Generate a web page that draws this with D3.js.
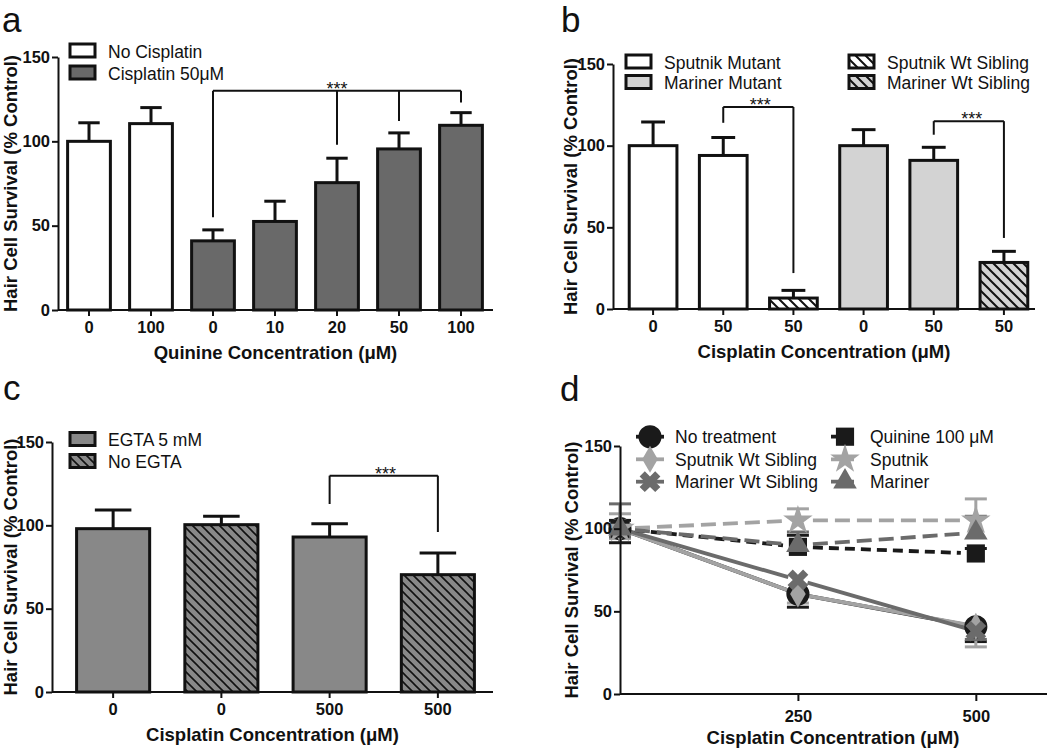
<!DOCTYPE html>
<html>
<head>
<meta charset="utf-8">
<script src="https://cdn.jsdelivr.net/npm/d3@7"></script>
<style>
body { margin: 0; background: #fff; }
svg text { font-family: Arial, "Liberation Sans", sans-serif; fill: #111; }
</style>
</head>
<body>
<div id="chart-area"></div>
<script>
// panel a
const aLabels = ["0", "100", "0", "10", "20", "50", "100"]
const aValues = [100, 110.5, 41, 52.5, 75.5, 95.5, 109.5]
const aErrors = [11, 9.5, 6.5, 12, 14.5, 9.5, 7.5]
const aGroups = ["No Cisplatin", "No Cisplatin", "Cisplatin 50μM", "Cisplatin 50μM", "Cisplatin 50μM", "Cisplatin 50μM", "Cisplatin 50μM"]

// panel b
const bLabels = ["0", "50", "50", "0", "50", "50"]
const bValues = [100, 94, 6.7, 100, 91, 28.5]
const bErrors = [14.5, 11, 4.7, 9.8, 8, 6.8]
const bGroups = ["Sputnik Mutant", "Sputnik Mutant", "Sputnik Wt Sibling", "Mariner Mutant", "Mariner Mutant", "Mariner Wt Sibling"]

// panel c
const cLabels = ["0", "0", "500", "500"]
const cValues = [98, 100.4, 93, 70.4]
const cErrors = [11.2, 5, 8, 13]
const cGroups = ["EGTA 5 mM", "No EGTA", "EGTA 5 mM", "No EGTA"]

// panel d
const dDoses = [0, 250, 500]
const dSeries = ["No treatment", "Sputnik Wt Sibling", "Mariner Wt Sibling", "Quinine 100 μM", "Sputnik", "Mariner"]
const dValues = [[100, 60.5, 40.7], [100, 60.5, 41], [100, 69, 38], [100, 89, 85], [100, 105, 105], [100, 90, 97.5]]
const dErrors = [[8.5, 8, 9], [6, 5.5, 12.5], [5, 7, 5], [5, 7, 3], [9, 7, 13], [15, 8, 10]]

const yTicks = [0, 50, 100, 150]

const svg = d3.select("#chart-area").append("svg").attr("width", 1050).attr("height", 749)

// hatch patterns
const defs = svg.append("defs")
function hatch(id, bg, line, step, w) {
  const p = defs.append("pattern").attr("id", id).attr("patternUnits", "userSpaceOnUse")
    .attr("width", step).attr("height", step)
  p.append("rect").attr("width", step).attr("height", step).attr("fill", bg)
  p.append("path").attr("d", `M0,0L${step},${step}M${-step / 2},${step / 2}L${step / 2},${step * 1.5}M${step / 2},${-step / 2}L${step * 1.5},${step / 2}`)
    .attr("stroke", line).attr("stroke-width", w)
}
hatch("hWhite", "#fff", "#111", 10, 2)
hatch("hLight", "#d3d3d3", "#111", 10, 2)
hatch("hGray", "#888", "#111", 9, 1.6)

function letter(t, x, y) {
  svg.append("text").attr("x", x).attr("y", y).attr("font-size", 35).text(t)
}

function yAxis(g, y, axisX, midY, titleX) {
  g.append("g").attr("transform", `translate(${axisX},0)`)
    .call(d3.axisLeft(y).tickValues(yTicks).tickSize(6).tickSizeOuter(0).tickPadding(2))
    .call(a => {
      a.select(".domain").attr("stroke", "#111").attr("stroke-width", 2)
      a.selectAll(".tick line").attr("stroke", "#111").attr("stroke-width", 2)
      a.selectAll(".tick text").attr("font-size", 16.5).attr("font-weight", "bold").attr("fill", "#111")
        .attr("font-family", "Arial, 'Liberation Sans', sans-serif")
    })
  g.append("text").attr("transform", `translate(${titleX},${midY}) rotate(-90)`)
    .attr("text-anchor", "middle").attr("font-size", 18.5).attr("font-weight", "bold")
    .text("Hair Cell Survival (% Control)")
}

function barPanel(p) {
  const g = svg.append("g")
  const y = d3.scaleLinear().domain([0, 150]).range([p.y0, p.y150])
  const x = d3.scaleBand().domain(p.labels.map((d, i) => i)).range([p.bandStart, p.bandEnd])
    .paddingInner(p.pad).paddingOuter(p.pad / 2)

  // bars
  g.selectAll("rect.bar").data(p.values).enter().append("rect")
    .attr("x", (d, i) => x(i))
    .attr("y", d => y(d))
    .attr("width", x.bandwidth())
    .attr("height", d => y(0) - y(d))
    .attr("fill", (d, i) => p.fills[p.groups[i]])
    .attr("stroke", "#111").attr("stroke-width", 3)

  // error bars
  const eb = g.selectAll("g.err").data(p.values).enter().append("g")
  eb.append("line")
    .attr("x1", (d, i) => x(i) + x.bandwidth() / 2).attr("x2", (d, i) => x(i) + x.bandwidth() / 2)
    .attr("y1", d => y(d)).attr("y2", (d, i) => y(d + p.errors[i]))
    .attr("stroke", "#111").attr("stroke-width", 3)
  eb.append("line")
    .attr("x1", (d, i) => x(i) + x.bandwidth() / 4).attr("x2", (d, i) => x(i) + x.bandwidth() * 3 / 4)
    .attr("y1", (d, i) => y(d + p.errors[i])).attr("y2", (d, i) => y(d + p.errors[i]))
    .attr("stroke", "#111").attr("stroke-width", 3)

  // brackets
  p.brackets.forEach(b => {
    const xs = b.ends.map(e => x(e[0]) + x.bandwidth() / 2)
    g.append("line").attr("x1", d3.min(xs)).attr("x2", d3.max(xs))
      .attr("y1", y(b.level)).attr("y2", y(b.level)).attr("stroke", "#111").attr("stroke-width", 2)
    b.ends.forEach((e, k) => {
      g.append("line").attr("x1", xs[k]).attr("x2", xs[k])
        .attr("y1", y(b.level)).attr("y2", y(e[1])).attr("stroke", "#111").attr("stroke-width", 2)
    })
    g.append("text").attr("x", x(b.star) + x.bandwidth() / 2 + (b.shift || 0)).attr("y", y(b.level) + 4)
      .attr("text-anchor", "middle").attr("font-size", 18).text("***")
  })

  // x axis
  g.append("line").attr("x1", p.axisX).attr("x2", p.axisEnd).attr("y1", y(0)).attr("y2", y(0))
    .attr("stroke", "#111").attr("stroke-width", 2)
  g.append("g").attr("transform", `translate(0,${y(0)})`)
    .call(d3.axisBottom(x).tickSize(6).tickPadding(5).tickFormat(i => p.labels[i]))
    .call(a => {
      a.select(".domain").remove()
      a.selectAll(".tick line").attr("stroke", "#111").attr("stroke-width", 2)
      a.selectAll(".tick text").attr("font-size", 16.5).attr("font-weight", "bold").attr("fill", "#111")
        .attr("font-family", "Arial, 'Liberation Sans', sans-serif")
    })
  g.append("text").attr("x", (p.axisX + p.axisEnd) / 2).attr("y", y(0) + 49)
    .attr("text-anchor", "middle").attr("font-size", 18.5).attr("font-weight", "bold").text(p.xTitle)

  yAxis(g, y, p.axisX, (p.y0 + p.y150) / 2, p.titleX)

  // legend
  p.legend.forEach(l => {
    g.append("rect").attr("x", l.x).attr("y", l.y - 6.5).attr("width", 25).attr("height", 13)
      .attr("fill", p.fills[l.name]).attr("stroke", "#111").attr("stroke-width", 3)
    g.append("text").attr("x", l.x + 38).attr("y", l.y + 7).attr("font-size", 17.5).text(l.name)
  })
}

barPanel({
  labels: aLabels, values: aValues, errors: aErrors, groups: aGroups,
  fills: { "No Cisplatin": "#fff", "Cisplatin 50μM": "#696969" },
  y0: 310, y150: 57, bandStart: 58, bandEnd: 492, pad: 0.31, axisX: 58, axisEnd: 493, titleX: 17,
  xTitle: "Quinine Concentration (μM)",
  brackets: [{ level: 130, star: 4, ends: [[2, 55], [4, 98], [5, 112], [6, 123]] }],
  legend: [{ name: "No Cisplatin", x: 70, y: 50.5 }, { name: "Cisplatin 50μM", x: 70, y: 72.5 }]
})

barPanel({
  labels: bLabels, values: bValues, errors: bErrors, groups: bGroups,
  fills: { "Sputnik Mutant": "#fff", "Mariner Mutant": "#d3d3d3", "Sputnik Wt Sibling": "url(#hWhite)", "Mariner Wt Sibling": "url(#hLight)" },
  y0: 309, y150: 64, bandStart: 618, bandEnd: 1039, pad: 0.32, axisX: 613, axisEnd: 1035, titleX: 577,
  xTitle: "Cisplatin Concentration (μM)",
  brackets: [{ level: 123.7, star: 1, shift: 37, ends: [[1, 114], [2, 22]] },
             { level: 115, star: 4, shift: 38, ends: [[4, 106.7], [5, 43.5]] }],
  legend: [{ name: "Sputnik Mutant", x: 626, y: 61.5 }, { name: "Mariner Mutant", x: 626, y: 82 },
           { name: "Sputnik Wt Sibling", x: 849, y: 61.5 }, { name: "Mariner Wt Sibling", x: 849, y: 82 }]
})

barPanel({
  labels: cLabels, values: cValues, errors: cErrors, groups: cGroups,
  fills: { "EGTA 5 mM": "#888", "No EGTA": "url(#hGray)" },
  y0: 692, y150: 442, bandStart: 59, bandEnd: 492, pad: 0.325, axisX: 52, axisEnd: 493, titleX: 17,
  xTitle: "Cisplatin Concentration (μM)",
  brackets: [{ level: 129.8, star: 2, shift: 56, ends: [[2, 112.8], [3, 96]] }],
  legend: [{ name: "EGTA 5 mM", x: 70, y: 439 }, { name: "No EGTA", x: 70, y: 461 }]
})

// panel d: dose response lines
const dStyles = [
  { color: "#1a1a1a", dash: null, symbol: d3.symbolCircle, size: 420, rot: 0 },
  { color: "#a3a3a3", dash: null, symbol: d3.symbolDiamond, size: 210, rot: 0 },
  { color: "#6b6b6b", dash: null, symbol: d3.symbolCross, size: 270, rot: 45 },
  { color: "#1a1a1a", dash: "10,6", symbol: d3.symbolSquare, size: 330, rot: 0 },
  { color: "#a3a3a3", dash: "15,7", symbol: d3.symbolStar, size: 270, rot: 0 },
  { color: "#6b6b6b", dash: "15,7", symbol: d3.symbolTriangle, size: 240, rot: 0 }
]

const gd = svg.append("g")
const yd = d3.scaleLinear().domain([0, 150]).range([694, 446])
const xd = d3.scaleLinear().domain([0, 600]).range([620, 1047])

// lines with small gaps at the markers
dSeries.forEach((s, si) => {
  const st = dStyles[si]
  for (let k = 0; k < dDoses.length - 1; k++) {
    const x1 = xd(dDoses[k]), y1 = yd(dValues[si][k])
    const x2 = xd(dDoses[k + 1]), y2 = yd(dValues[si][k + 1])
    const len = Math.hypot(x2 - x1, y2 - y1)
    const ux = (x2 - x1) / len, uy = (y2 - y1) / len
    const gap = st.dash ? 15 : 10
    gd.append("line")
      .attr("x1", x1 + ux * gap).attr("y1", y1 + uy * gap)
      .attr("x2", x2 - ux * gap).attr("y2", y2 - uy * gap)
      .attr("stroke", st.color).attr("stroke-width", 3.8)
      .attr("stroke-dasharray", st.dash)
  }
})

// error bars then markers
dSeries.forEach((s, si) => {
  const st = dStyles[si]
  const dir = st.dash ? 1 : -1
  dDoses.forEach((dose, k) => {
    const v = dValues[si][k], e = dErrors[si][k]
    gd.append("line").attr("x1", xd(dose)).attr("x2", xd(dose))
      .attr("y1", yd(v)).attr("y2", yd(v + dir * e))
      .attr("stroke", st.color).attr("stroke-width", 3)
    gd.append("line").attr("x1", xd(dose) - 11).attr("x2", xd(dose) + 11)
      .attr("y1", yd(v + dir * e)).attr("y2", yd(v + dir * e))
      .attr("stroke", st.color).attr("stroke-width", 3)
  })
})
dSeries.forEach((s, si) => {
  const st = dStyles[si]
  gd.selectAll(null).data(dDoses).enter().append("path")
    .attr("d", d3.symbol().type(st.symbol).size(st.size))
    .attr("transform", (d, k) => `translate(${xd(d)},${yd(dValues[si][k])}) rotate(${st.rot})`)
    .attr("fill", st.color)
})

// axes d
gd.append("line").attr("x1", 620).attr("x2", 1047).attr("y1", yd(0)).attr("y2", yd(0))
  .attr("stroke", "#111").attr("stroke-width", 2)
gd.append("g").attr("transform", `translate(0,${yd(0)})`)
  .call(d3.axisBottom(xd).tickValues([250, 500]).tickSize(7).tickPadding(9))
  .call(a => {
    a.select(".domain").remove()
    a.selectAll(".tick line").attr("stroke", "#111").attr("stroke-width", 2)
    a.selectAll(".tick text").attr("font-size", 16.5).attr("font-weight", "bold").attr("fill", "#111")
      .attr("font-family", "Arial, 'Liberation Sans', sans-serif")
  })
gd.append("text").attr("x", 833).attr("y", 744).attr("text-anchor", "middle")
  .attr("font-size", 18.5).attr("font-weight", "bold").text("Cisplatin Concentration (μM)")
yAxis(gd, yd, 620, 570, 578)

// legend d
const dLegendPos = [[650, 436.7], [650, 459.3], [650, 481.7], [845, 436.7], [845, 459.3], [845, 481.7]]
dSeries.forEach((s, si) => {
  const st = dStyles[si]
  const [lx, ly] = dLegendPos[si]
  gd.append("line").attr("x1", lx - 14).attr("x2", lx + 14).attr("y1", ly).attr("y2", ly)
    .attr("stroke", st.color).attr("stroke-width", 3.8).attr("stroke-dasharray", st.dash ? "9,5" : null)
  gd.append("path").attr("d", d3.symbol().type(st.symbol).size(st.size))
    .attr("transform", `translate(${lx},${ly}) rotate(${st.rot})`).attr("fill", st.color)
  gd.append("text").attr("x", lx + 25).attr("y", ly + 6.5).attr("font-size", 17.5).text(s)
})

letter("a", 2, 32)
letter("b", 561, 32)
letter("c", 3, 400)
letter("d", 560, 401)
</script>
</body>
</html>
